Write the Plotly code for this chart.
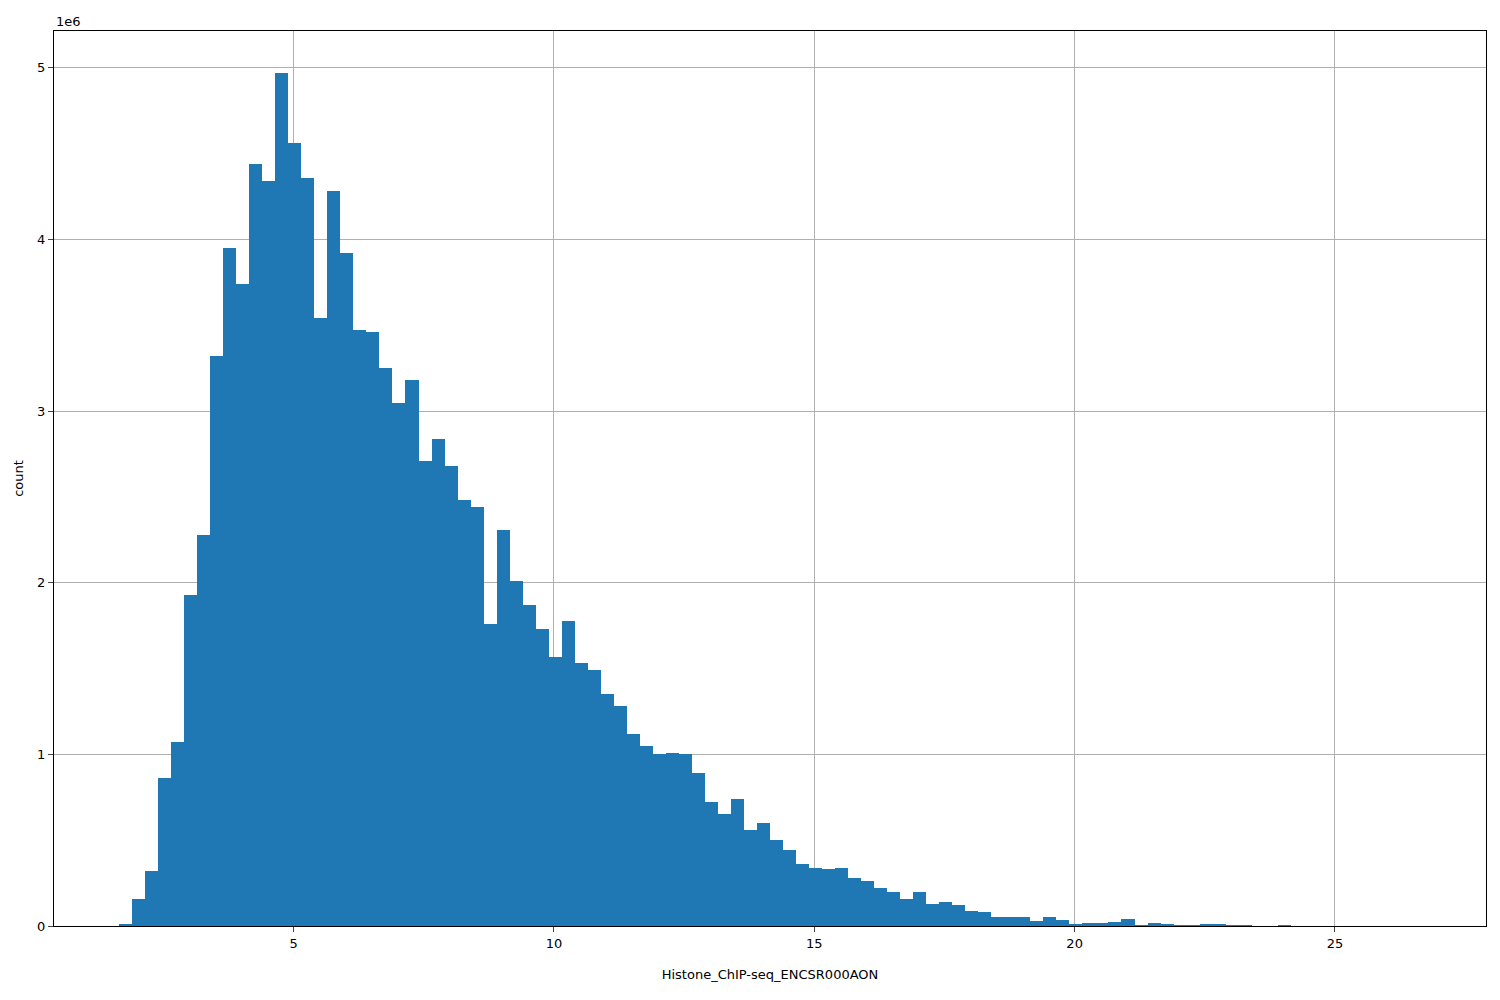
import plotly.graph_objects as go

bin_start = 1.65
bin_width = 0.25
counts_m = [0.01,0.16,0.32,0.86,1.07,1.93,2.28,3.32,3.95,3.74,
            4.44,4.34,4.97,4.56,4.36,3.54,4.28,3.92,3.47,3.46,
            3.25,3.05,3.18,2.71,2.84,2.68,2.48,2.44,1.76,2.31,
            2.01,1.87,1.73,1.57,1.78,1.53,1.49,1.35,1.28,1.12,
            1.05,1.00,1.01,1.00,0.89,0.72,0.65,0.74,0.56,0.60,
            0.50,0.44,0.36,0.34,0.33,0.34,0.28,0.26,0.22,0.20,
            0.16,0.20,0.13,0.14,0.12,0.09,0.08,0.05,0.05,0.055,
            0.03,0.055,0.035,0.012,0.018,0.018,0.025,0.04,0.003,0.018,
            0.01,0.002,0.002,0.006,0.012,0.001,0.001,0.0,0.0,0.004,
            0.0,0.0,0.0,0.0,0.0,0.0,0.0,0.0,0.0,0.0]
centers = [bin_start + bin_width * (i + 0.5) for i in range(len(counts_m))]
counts = [c * 1e6 for c in counts_m]
yticks = [0, 1, 2, 3, 4, 5]

fig = go.Figure(go.Bar(x=centers, y=counts, width=bin_width,
                       marker=dict(color="#1f77b4", line=dict(width=0))))
fig.update_layout(
    width=1500, height=1000, plot_bgcolor="white", paper_bgcolor="white",
    margin=dict(l=46, r=22, t=23, b=82, autoexpand=False), bargap=0, showlegend=False,
    font=dict(family="DejaVu Sans", size=13, color="black"),
    annotations=[dict(text="1e6", xref="paper", yref="paper", x=0, y=1,
                      xanchor="left", yanchor="bottom", showarrow=False,
                      font=dict(size=13))])
fig.update_xaxes(range=[0.4, 27.9], tickvals=[5, 10, 15, 20, 25], automargin=False,
                 showgrid=True, gridcolor="#b0b0b0", showline=True, linecolor="black",
                 mirror=True, ticks="outside", zeroline=False,
                 title=dict(text="Histone_ChIP-seq_ENCSR000AON", standoff=20, font=dict(size=13)))
fig.update_yaxes(range=[0, 5.215e6], tickvals=[v * 1e6 for v in yticks], automargin=False,
                 ticktext=[str(v) for v in yticks],
                 showgrid=True, gridcolor="#b0b0b0", showline=True, linecolor="black",
                 mirror=True, ticks="outside", zeroline=False,
                 title=dict(text="count", standoff=10, font=dict(size=13)))
fig.write_html("out.html")
